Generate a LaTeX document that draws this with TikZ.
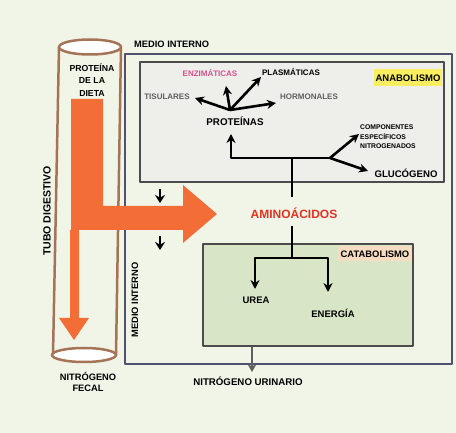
\documentclass[tikz,border=0pt]{standalone}
\usepackage{fontspec}
\setmainfont{Liberation Sans}
\usetikzlibrary{arrows.meta}
\definecolor{fondo}{RGB}{240,245,232}
\definecolor{tubo}{RGB}{165,115,85}
\definecolor{naranja}{RGB}{243,110,55}
\definecolor{azul}{RGB}{78,82,112}
\definecolor{anab}{RGB}{238,238,234}
\definecolor{catab}{RGB}{216,230,199}
\definecolor{amarillo}{RGB}{248,238,95}
\definecolor{melocoton}{RGB}{246,220,192}
\definecolor{rosa}{RGB}{214,80,140}
\definecolor{rojo}{RGB}{226,50,35}
\definecolor{gris}{RGB}{95,95,95}

\begin{document}
\begin{tikzpicture}[x=1pt, y=-1pt, line join=round,
  txt/.style={inner sep=0pt, font=\bfseries\fontsize{#1}{#1}\selectfont},
  linea/.style={line width=2.6pt},
  flecha/.style={line width=2.6pt, -{Stealth[length=9pt, width=9pt]}},
  marco/.style={line width=1.4pt, draw=gris!80!black}]
  \useasboundingbox (0,0) rectangle (456,433);
  \fill[fondo] (0,0) rectangle (456,433);
  % medio interno
  \draw[azul, line width=2pt] (125,54) rectangle (452,364);
  \node[txt=9.3, anchor=west] (medio) at (134,44) {MEDIO INTERNO};
  \node[txt=9.3, rotate=90] (medio2) at (135,300) {MEDIO INTERNO};
  % anabolismo y catabolismo
  \draw[marco, fill=anab] (140,62) rectangle (444,182);
  \draw[marco, fill=catab] (203,244) rectangle (413,346);
  \node[txt=9.5, fill=amarillo, inner xsep=2pt, minimum height=17pt] (anabol) at (408,78) {ANABOLISMO};
  \node[txt=9.4, fill=melocoton, inner xsep=2.5pt, minimum height=15pt] (catabol) at (375,254) {CATABOLISMO};
  % tubo digestivo
  \draw[tubo, line width=2.5pt] (59,47) -- (53,355) (121,47) -- (116,355);
  \draw[tubo, line width=2.5pt, fill=white] (90,47) ellipse [x radius=31pt, y radius=7.5pt];
  \node[txt=10.5, rotate=90] (tubod) at (47,211) {TUBO DIGESTIVO};
  \node[inner sep=0pt, align=center, font=\bfseries\fontsize{8.7}{12.5}\selectfont] (dieta) at (92,80) {PROTEÍNA\\DE LA\\DIETA};
  \fill[naranja] (71,99) -- (103,99) -- (103,206) -- (183,206) -- (183,185) -- (217,214) -- (183,243)
    -- (183,230) -- (79,230) -- (79,318) -- (89,318) -- (74,340) -- (59,318) -- (70,318) -- (70,230) -- (71,230) -- cycle;
  \draw[tubo, line width=2.5pt, fill=white] (84,355) ellipse [x radius=32pt, y radius=7pt];
  \node[inner sep=0pt, align=center, font=\bfseries\fontsize{9.3}{11.5}\selectfont] (fecal) at (88,382) {NITRÓGENO\\FECAL};
  \coordinate (f1a) at (160,189); \coordinate (f1b) at (160,203);
  \coordinate (f2a) at (160,236); \coordinate (f2b) at (160,250);
  \draw[line width=1.6pt, -{Stealth[length=8pt, width=10pt]}] (f1a) -- (f1b);
  \draw[line width=1.6pt, -{Stealth[length=8pt, width=10pt]}] (f2a) -- (f2b);
  % proteinas
  \node[txt=8, text=rosa] (enz) at (210,73) {ENZIMÁTICAS};
  \node[txt=8] (plas) at (291,72) {PLASMÁTICAS};
  \node[txt=8, text=gris] (tis) at (167,97) {TISULARES};
  \node[txt=8, text=gris] (horm) at (309,97) {HORMONALES};
  \node[txt=9.8] (prot) at (235,121) {PROTEÍNAS};
  \coordinate (hub) at (230,110);
  \coordinate (tisT) at (195,98); \coordinate (enzT) at (226,86);
  \coordinate (plasT) at (261,77); \coordinate (hormT) at (276,103);
  \foreach \t in {tisT, enzT, plasT, hormT}
    \draw[flecha] (hub) -- (\t);
  \node[anchor=west, inner sep=0pt, align=left, font=\bfseries\fontsize{6.8}{9.5}\selectfont] (comp) at (360,137) {COMPONENTES\\ESPECÍFICOS\\NITROGENADOS};
  \node[txt=9.6] (gluc) at (406,173) {GLUCÓGENO};
  \node[txt=12, text=rojo] (amino) at (294,213) {AMINOÁCIDOS};
  \coordinate (izq) at (231,158); \coordinate (nudo) at (292,158); \coordinate (rama) at (330,158);
  \coordinate (protT) at (231,134); \coordinate (compT) at (359,134); \coordinate (glucT) at (368,171);
  \draw[flecha] (rama) -- (izq) -- (protT);
  \draw[flecha] (rama) -- (compT);
  \draw[flecha] (rama) -- (glucT);
  \draw[linea] ([yshift=10pt]amino.north -| nudo) -- (nudo);
  % catabolismo
  \coordinate (nudo2) at (292,258); \coordinate (catL) at (255,258); \coordinate (catR) at (328,258);
  \coordinate (ureaT) at (255,289); \coordinate (enerT) at (328,292);
  \draw[linea] ([yshift=-7pt]amino.south -| nudo2) -- (nudo2);
  \draw[flecha] (nudo2) -- (catL) -- (ureaT);
  \draw[flecha] (nudo2) -- (catR) -- (enerT);
  \node[txt=9.5] (urea) at (256,300) {UREA};
  \node[txt=9.5] (energia) at (333,313) {ENERGÍA};
  \coordinate (orina) at (252,347); \coordinate (orinaT) at (252,372);
  \draw[line width=2.8pt, draw=gris, -{Stealth[length=8pt, width=9pt]}] (orina) -- (orinaT);
  \node[txt=9.7] (urinario) at (248,381) {NITRÓGENO URINARIO};
\end{tikzpicture}
\end{document}
